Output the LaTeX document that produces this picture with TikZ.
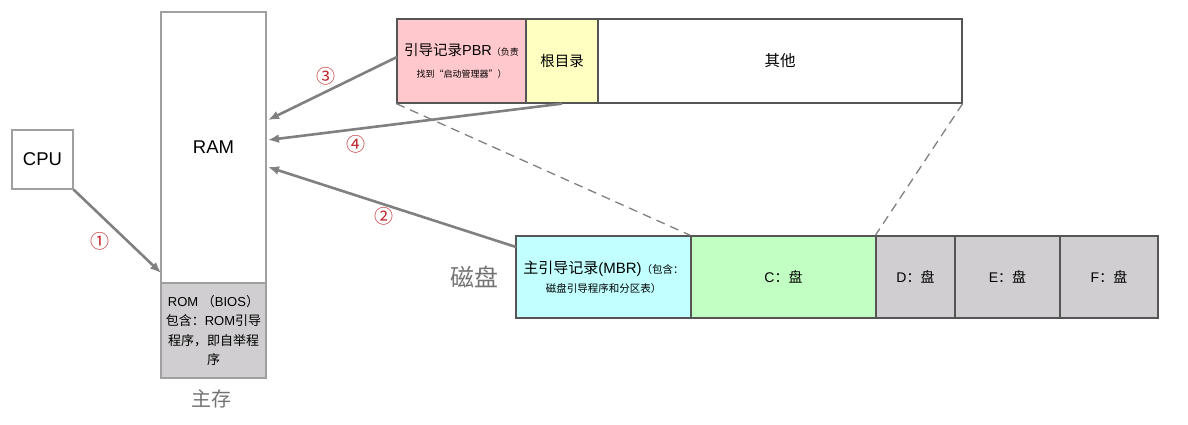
\documentclass[tikz,border=0pt]{standalone}
\usepackage{fontspec}
\setmainfont{Liberation Sans}
\newfontfamily\cjk{Noto Sans CJK SC}
\usetikzlibrary{arrows.meta}
\definecolor{boxgray}{HTML}{A0A0A0}
\definecolor{bardark}{HTML}{555555}
\definecolor{pbrpink}{HTML}{FFC8CD}
\definecolor{rootyel}{HTML}{FFFFC2}
\definecolor{mbrcyan}{HTML}{C2FFFF}
\definecolor{cgreen}{HTML}{C2FFC2}
\definecolor{diskgray}{HTML}{D0CED0}
\definecolor{arrgray}{HTML}{808080}
\definecolor{numred}{HTML}{C0282D}
\newcommand{\sm}[1]{{\cjk\fontsize{9}{11}\selectfont #1}}
\newcommand{\smb}[1]{{\cjk\fontsize{10.5}{12}\selectfont #1}}
\begin{document}
\begin{tikzpicture}[x=1pt,y=-1pt,
  mem/.style={draw=boxgray,line width=1.2pt,inner sep=0pt,align=center,font=\fontsize{18.5}{22}\selectfont},
  seg/.style={draw=bardark,line width=1.3pt,inner sep=0pt,align=center,minimum height=84pt,font=\fontsize{14.5}{17}\selectfont},
  dseg/.style={draw=bardark,line width=1.3pt,inner sep=0pt,align=center,minimum height=82pt,font=\fontsize{14}{17}\selectfont},
  flow/.style={draw=arrgray,line width=2.6pt,-{Latex[length=11pt,width=9pt]}},
  guide/.style={draw=arrgray,line width=1.3pt,dash pattern=on 9pt off 6pt},
  num/.style={text=numred,font=\cjk\fontsize{19}{20}\selectfont,inner sep=0pt},
  captext/.style={text=arrgray!90!black,inner sep=0pt}]
\useasboundingbox (0,0) rectangle (1188,425);
% memory
\node[mem,minimum width=61pt,minimum height=59pt] (CPU) at (42.5,159.5) {CPU};
\node[mem,minimum width=105pt,minimum height=271pt] (RAM) at (213.5,147.5) {RAM};
\node[mem,fill=diskgray,minimum width=105pt,minimum height=95pt,font=\fontsize{13}{19.5}\selectfont] (ROM) at (213.5,330.5) {ROM {\cjk（}BIOS{\cjk）}\\{\cjk 包含：}ROM{\cjk 引导}\\{\cjk 程序，即自举程}\\{\cjk 序}};
\node[captext,font=\cjk\fontsize{20}{24}\selectfont] (zc) at (211,399) {主存};
% partition bar
\node[seg,fill=pbrpink,minimum width=129pt] (PBR) at (461.5,61) {{\cjk 引导记录}PBR\sm{（负责}\\[5pt]\sm{找到“启动管理器”）}};
\node[seg,fill=rootyel,minimum width=72pt,font=\cjk\fontsize{14.5}{17}\selectfont] (GML) at (562,61) {根目录};
\node[seg,fill=white,minimum width=364pt,font=\cjk\fontsize{15.5}{17}\selectfont] (QT) at (780,61) {其他};
% disk bar
\node[dseg,fill=mbrcyan,minimum width=175pt,font=\fontsize{15}{18}\selectfont] (MBR) at (603.5,277) {{\cjk 主引导记录}(MBR)\smb{（包含：}\\[1pt]\smb{磁盘引导程序和分区表）}};
\node[dseg,fill=cgreen,minimum width=185pt] (C) at (783.5,277) {C{\cjk ：盘}};
\node[dseg,fill=diskgray,minimum width=79pt] (D) at (915.5,277) {D{\cjk ：盘}};
\node[dseg,fill=diskgray,minimum width=105pt] (E) at (1007.5,277) {E{\cjk ：盘}};
\node[dseg,fill=diskgray,minimum width=98pt] (F) at (1109,277) {F{\cjk ：盘}};
\node[captext,font=\cjk\fontsize{24}{28}\selectfont] (cp) at (474,277) {磁盘};
% guides
\draw[guide] (PBR.south west) -- (C.north west);
\draw[guide] (QT.south east) -- (D.north west);
% arrows
\coordinate (r1) at (161,273);
\coordinate (r3) at (268,120);
\coordinate (r4) at (268,140);
\coordinate (r2) at (268,167);
\coordinate (s3) at (397,57);
\coordinate (s2) at (516,247);
\draw[flow] (CPU.south east) -- (r1);
\draw[flow] (s3) -- (r3);
\draw[flow] (GML.south) -- (r4);
\draw[flow] (s2) -- (r2);
\node[num] (n1) at (100,241) {①};
\node[num] (n3) at (326,76) {③};
\node[num] (n4) at (356,144) {④};
\node[num] (n2) at (384,216) {②};
\end{tikzpicture}
\end{document}
